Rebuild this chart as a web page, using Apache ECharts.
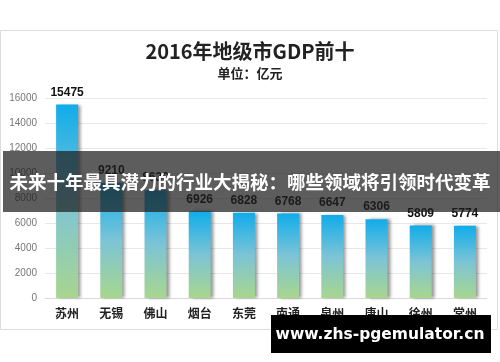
<!DOCTYPE html>
<html>
<head>
<meta charset="utf-8">
<script src="https://cdn.jsdelivr.net/npm/echarts@6/dist/echarts.min.js"></script>
<style>html,body{margin:0;padding:0;background:#fff;}#c{width:500px;height:362px;}</style>
</head>
<body>
<div id="c"></div>
<script>
var categories = ['苏州','无锡','佛山','烟台','东莞','南通','泉州','唐山','徐州','常州'];
var gdpValues = [15475, 9210, 8630, 6926, 6828, 6768, 6647, 6306, 5809, 5774];
var yTicks = [0, 2000, 4000, 6000, 8000, 10000, 12000, 14000, 16000];
var titleText = '2016年地级市GDP前十';
var subtitleText = '单位：亿元';
var bannerText = '未来十年最具潜力的行业大揭秘：哪些领域将引领时代变革';
var watermarkText = 'www.zhs-pgemulator.cn';

var chart = echarts.init(document.getElementById('c'), null, {renderer:'canvas'});
var cjk = '"Noto Sans CJK SC", "Noto Sans", sans-serif';
chart.setOption({
  animation: false,
  backgroundColor: '#fff',
  title: [
    {text: titleText, left: 'center', top: 36, textStyle: {fontSize: 20, fontWeight: 'bold', color: '#222', fontFamily: cjk}},
    {text: subtitleText, left: 'center', top: 62, textStyle: {fontSize: 13, fontWeight: 'bold', color: '#222', fontFamily: cjk}}
  ],
  grid: {left: 45, right: 13, top: 98, bottom: 64},
  xAxis: {
    type: 'category', data: categories,
    axisTick: {show: false},
    axisLine: {lineStyle: {color: '#d9d9d9'}},
    axisLabel: {color: '#222', fontSize: 12, fontWeight: 'bold', fontFamily: cjk, margin: 9}
  },
  yAxis: {
    type: 'value', min: yTicks[0], max: yTicks[yTicks.length-1], interval: yTicks[1]-yTicks[0],
    axisLine: {show: false}, axisTick: {show: false},
    axisLabel: {color: '#777', fontSize: 10, margin: 8, fontFamily: 'Liberation Sans, sans-serif', formatter: function(v){ return String(v); }},
    splitLine: {lineStyle: {color: '#e8e8e8'}}
  },
  series: [{
    type: 'bar', data: gdpValues, barWidth: 22,
    itemStyle: {
      color: new echarts.graphic.LinearGradient(0, 0, 0, 1, [
        {offset: 0, color: '#10acea'},
        {offset: 0.5, color: '#7cc4d6'},
        {offset: 1, color: '#a8d68e'}
      ]),
      shadowColor: 'rgba(0,0,0,0.4)', shadowOffsetX: 3, shadowOffsetY: 0, shadowBlur: 3
    },
    label: {show: true, position: 'top', distance: 6, color: '#111', fontSize: 12, fontWeight: 'bold', fontFamily: 'Liberation Sans, sans-serif'}
  }],
  graphic: [
    {type: 'rect', z: -1, silent: true, shape: {x: 0.5, y: 30.5, width: 497, height: 299}, style: {fill: 'none', stroke: '#dcdcdc', lineWidth: 1}},
    {type: 'rect', z: 100, silent: true, shape: {x: 3, y: 151, width: 497, height: 61}, style: {fill: 'rgba(30,30,30,0.72)'}},
    {type: 'text', z: 101, silent: true, x: 250, y: 182, style: {text: bannerText, fill: '#fff', fontSize: 18.5, fontWeight: 'bold', fontFamily: cjk, align: 'center', verticalAlign: 'middle'}},
    {type: 'rect', z: 100, silent: true, shape: {x: 271, y: 315, width: 220, height: 38}, style: {fill: '#000'}},
    {type: 'text', z: 101, silent: true, x: 380, y: 335, style: {text: watermarkText, fill: '#fff', fontSize: 15.5, fontWeight: 'bold', fontFamily: 'DejaVu Sans, sans-serif', align: 'center', verticalAlign: 'middle'}}
  ]
});
</script>
</body>
</html>
